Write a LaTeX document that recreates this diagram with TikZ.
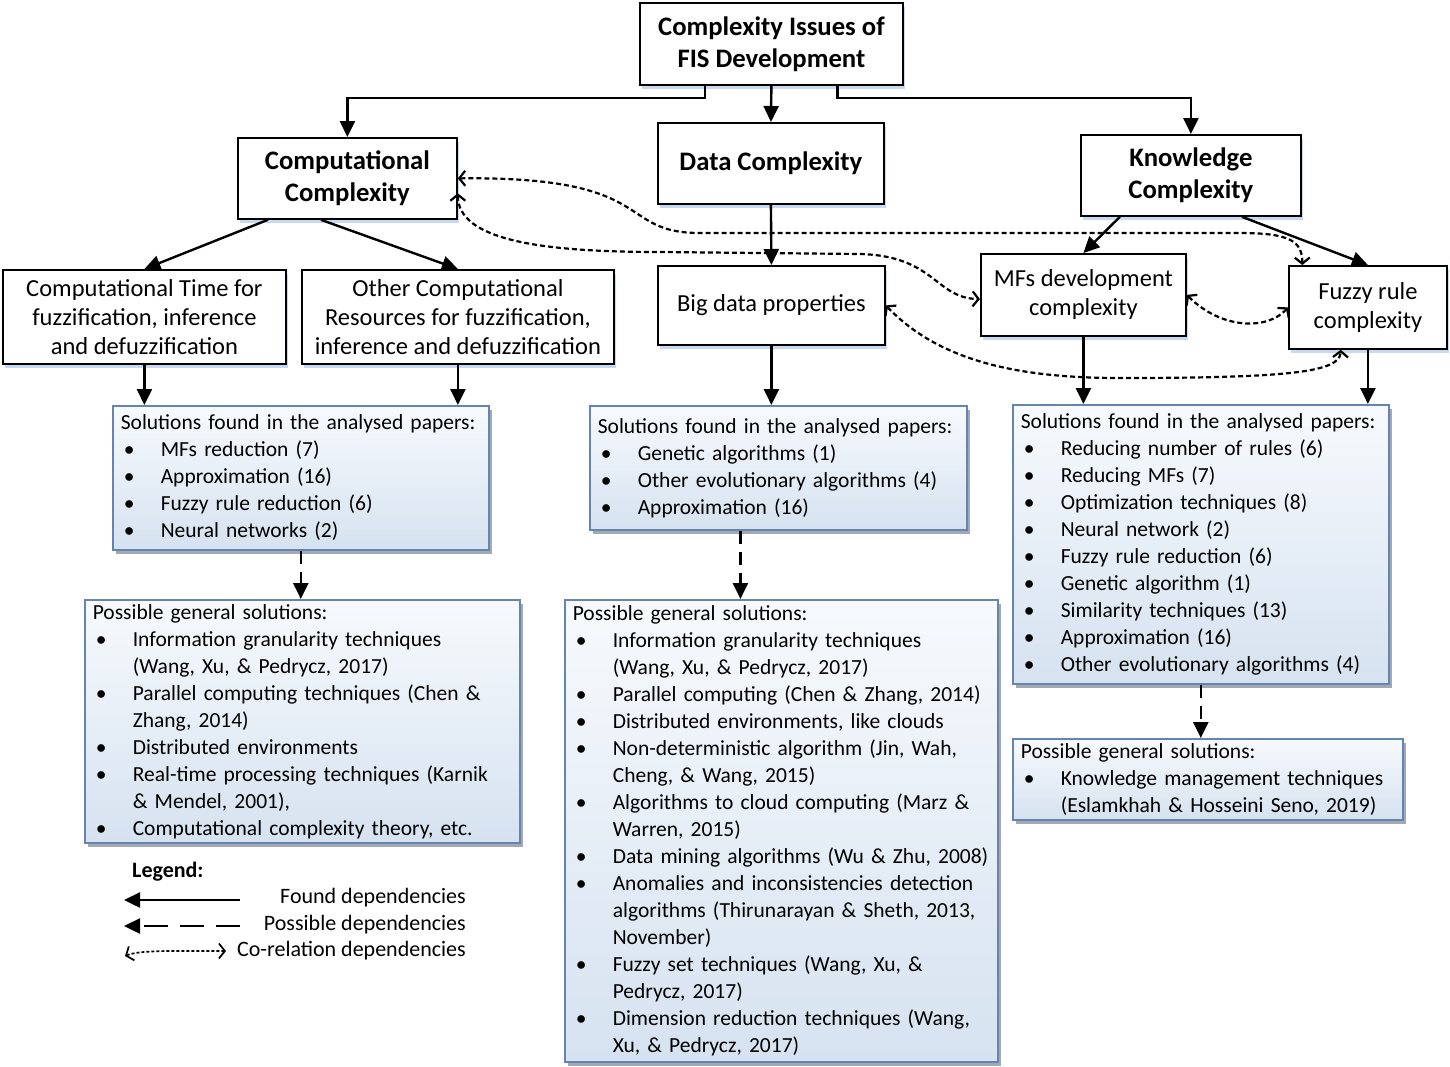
\documentclass[tikz,border=0pt]{standalone}
\usepackage{fontspec}
\setmainfont{Carlito}
\usetikzlibrary{arrows.meta,shadows,calc}
\definecolor{sblue}{HTML}{C6D9F1}
\definecolor{bord}{HTML}{6485B2}
\definecolor{gtop}{HTML}{F7FAFD}
\definecolor{gbot}{HTML}{D6E2F0}
\definecolor{shgray}{HTML}{A2A9B3}
\newcommand\bi[1]{\mbox{\makebox[40pt][l]{\hspace*{3pt}\textbullet}#1}}
\newcommand\ci[1]{\mbox{\hspace*{40pt}#1}}
\tikzset{
 hbox/.style={draw=black, line width=1.8pt, fill=white, align=center, inner sep=0pt, anchor=north west,
   drop shadow={shadow xshift=2pt, shadow yshift=-4pt, fill=sblue, opacity=1}},
 hbold/.style={hbox, font=\bfseries\fontsize{26.7}{32}\selectfont},
 hreg/.style={hbox, font=\fontsize{24.5}{29}\selectfont},
 sbox/.style={draw=bord, line width=1.6pt, top color=gtop, bottom color=gbot, align=left, inner xsep=8pt, inner ysep=0pt,
   anchor=north west, font=\fontsize{21.5}{27}\selectfont,
   drop shadow={shadow xshift=3pt, shadow yshift=-4pt, fill=shgray, opacity=1}},
 arr/.style={line width=2.4pt, -{Triangle[length=16pt,width=15pt]}},
 darr/.style={arr, dash pattern=on 13pt off 8pt},
 carr/.style={line width=2.2pt, dash pattern=on 5pt off 3pt, {Straight Barb[length=6pt,width=15pt]}-{Straight Barb[length=6pt,width=15pt]}},
 ltext/.style={font=\fontsize{22}{27}\selectfont, inner sep=0pt},
}
\begin{document}
\begin{tikzpicture}[x=1pt,y=-1pt]
\useasboundingbox[fill=white] (0,0) rectangle (1450,1066);

% header boxes
\node[hbold, minimum width=263pt, minimum height=82pt] (top) at (639,2) {Complexity Issues of\\FIS Development};
\node[hbold, minimum width=219pt, minimum height=81pt] (comp) at (237,137) {Computational\\Complexity};
\node[hbold, minimum width=226pt, minimum height=81pt] (data) at (657,122) {Data Complexity};
\node[hbold, minimum width=220pt, minimum height=81pt] (know) at (1080,134) {Knowledge\\Complexity};

\node[hreg, minimum width=283pt, minimum height=94pt] (ctime) at (2,269) {Computational Time for\\fuzzification, inference\\and defuzzification};
\node[hreg, minimum width=312pt, minimum height=94pt] (other) at (301,269) {Other Computational\\Resources for fuzzification,\\inference and defuzzification};
\node[hreg, minimum width=227pt, minimum height=79pt] (big) at (657,265) {Big data properties};
\node[hreg, minimum width=205pt, minimum height=82pt] (mfs) at (980,253) {MFs development\\complexity};
\node[hreg, minimum width=158pt, minimum height=83pt] (fuzzy) at (1288,265) {Fuzzy rule\\complexity};

% solution boxes
\node[sbox, minimum width=376pt, minimum height=144pt, text width=360pt] (sol1) at (112,405)
 {\mbox{Solutions found in the analysed papers:}\\\bi{MFs reduction (7)}\\\bi{Approximation (16)}\\\bi{Fuzzy rule reduction (6)}\\\bi{Neural networks (2)}};
\node[sbox, minimum width=377pt, minimum height=124pt, text width=361pt] (sol2) at (589,405)
 {\mbox{Solutions found in the analysed papers:}\\\bi{Genetic algorithms (1)}\\\bi{Other evolutionary algorithms (4)}\\\bi{Approximation (16)}};
\node[sbox, minimum width=376pt, minimum height=279pt, text width=360pt] (sol3) at (1012,404)
 {\mbox{Solutions found in the analysed papers:}\\\bi{Reducing number of rules (6)}\\\bi{Reducing MFs (7)}\\\bi{Optimization techniques (8)}\\\bi{Neural network (2)}\\\bi{Fuzzy rule reduction (6)}\\\bi{Genetic algorithm (1)}\\\bi{Similarity techniques (13)}\\\bi{Approximation (16)}\\\bi{Other evolutionary algorithms (4)}};

\node[sbox, minimum width=435pt, minimum height=243pt, text width=419pt] (pos1) at (84,599)
 {\mbox{Possible general solutions:}\\\bi{Information granularity techniques}\\\ci{(Wang, Xu, \& Pedrycz, 2017)}\\\bi{Parallel computing techniques (Chen \&}\\\ci{Zhang, 2014)}\\\bi{Distributed environments}\\\bi{Real-time processing techniques (Karnik}\\\ci{\& Mendel, 2001),}\\\bi{Computational complexity theory, etc.}};
\node[sbox, minimum width=433pt, minimum height=462pt, text width=417pt] (pos2) at (564,599)
 {\mbox{Possible general solutions:}\\\bi{Information granularity techniques}\\\ci{(Wang, Xu, \& Pedrycz, 2017)}\\\bi{Parallel computing (Chen \& Zhang, 2014)}\\\bi{Distributed environments, like clouds}\\\bi{Non-deterministic algorithm (Jin, Wah,}\\\ci{Cheng, \& Wang, 2015)}\\\bi{Algorithms to cloud computing (Marz \&}\\\ci{Warren, 2015)}\\\bi{Data mining algorithms (Wu \& Zhu, 2008)}\\\bi{Anomalies and inconsistencies detection}\\\ci{algorithms (Thirunarayan \& Sheth, 2013,}\\\ci{November)}\\\bi{Fuzzy set techniques (Wang, Xu, \&}\\\ci{Pedrycz, 2017)}\\\bi{Dimension reduction techniques (Wang,}\\\ci{Xu, \& Pedrycz, 2017)}};
\node[sbox, minimum width=390pt, minimum height=81pt, text width=374pt] (pos3) at (1012,738)
 {\mbox{Possible general solutions:}\\\bi{Knowledge management techniques}\\\ci{(Eslamkhah \& Hosseini Seno, 2019)}};

% found dependencies
\draw[arr] ($(top.south west)!0.25!(top.south east)$) -- ++(0,12) -| (comp.north);
\draw[arr] (top.south) -- (data.north);
\draw[arr] ($(top.south west)!0.75!(top.south east)$) -- ++(0,12) -| (know.north);
\draw[arr] ($(comp.south west)!0.14!(comp.south east)$) -- (ctime.north);
\draw[arr] ($(comp.south west)!0.38!(comp.south east)$) -- (other.north);
\draw[arr] (data.south) -- (big.north);
\draw[arr] ($(know.south west)!0.18!(know.south east)$) -- (mfs.north);
\draw[arr] ($(know.south west)!0.73!(know.south east)$) -- (fuzzy.north);
\draw[arr] (ctime.south) -- (ctime.south |- sol1.north);
\draw[arr] (other.south) -- (other.south |- sol1.north);
\draw[arr] (big.south) -- (big.south |- sol2.north);
\draw[arr] (mfs.south) -- (mfs.south |- sol3.north);
\draw[arr] (fuzzy.south) -- (fuzzy.south |- sol3.north);

% possible dependencies
\draw[darr] (sol1.south) -- (sol1.south |- pos1.north);
\coordinate (s2b) at ($(sol2.south west)!0.4!(sol2.south east)$);
\draw[darr] (s2b) -- (s2b |- pos2.north);
\draw[darr] (sol3.south) -- (sol3.south |- pos3.north);

% co-relation dependencies
\coordinate (fzt) at ($(fuzzy.north west)!0.09!(fuzzy.north east)$);
\coordinate (fzb) at ($(fuzzy.south west)!0.33!(fuzzy.south east)$);
\coordinate (cce) at ($(comp.north east)!0.68!(comp.south east)$);
\coordinate (mfw) at ($(mfs.north west)!0.55!(mfs.south west)$);
\draw[carr] (comp.east) .. controls (660,176) and (615,233) .. (700,233) -- (1240,233) .. controls (1292,233) and (1302,242) .. (fzt);
\draw[carr] (cce) .. controls (458,240) and (540,252) .. (660,252) -- (860,254) .. controls (935,256) and (935,298) .. (mfw);
\draw[carr] (mfs.east) .. controls (1222,330) and (1268,330) .. (fuzzy.west);
\draw[carr] (big.east) .. controls (940,362) and (1020,378) .. (1120,378) .. controls (1290,378) and (1340,372) .. (fzb);

% legend
\node[ltext, font=\bfseries\fontsize{22}{27}\selectfont, anchor=west] (leg) at (132,872) {Legend:};
\node[ltext, anchor=east] (lg1) at (466,898) {Found dependencies};
\node[ltext, anchor=east] (lg2) at (466,925) {Possible dependencies};
\node[ltext, anchor=east] (lg3) at (466,951) {Co-relation dependencies};
\coordinate (l1a) at (240,900); \coordinate (l1b) at (124,900);
\coordinate (l2a) at (240,926); \coordinate (l2b) at (124,926);
\coordinate (l3a) at (125,956); \coordinate (l3b) at (226,951);
\draw[arr] (l1a) -- (l1b);
\draw[arr, dash pattern=on 24pt off 12pt] (l2a) -- (l2b);
\draw[carr, line width=1.7pt, dash pattern=on 3pt off 2pt] (l3a) .. controls (140,950) and (170,951) .. (l3b);
\end{tikzpicture}
\end{document}
